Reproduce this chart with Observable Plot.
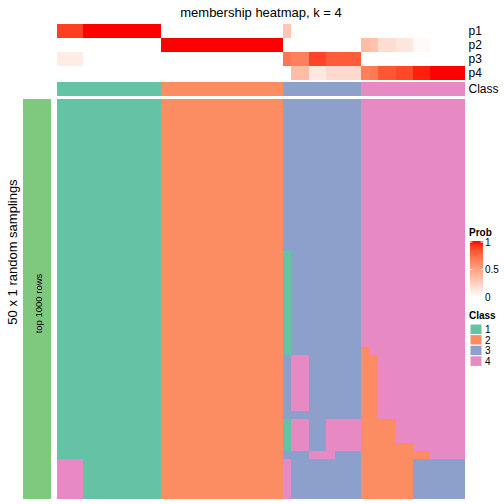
<!DOCTYPE html>
<html>
<head>
<meta charset="utf-8">
<script src="https://cdn.jsdelivr.net/npm/d3@7"></script>
<script src="https://cdn.jsdelivr.net/npm/@observablehq/plot@0.6"></script>
<style>
  html, body { margin: 0; padding: 0; background: #fff; }
  #wrap { position: relative; width: 504px; height: 504px; overflow: hidden; font-family: "Liberation Sans", Arial, sans-serif; }
  #wrap > svg, #wrap > figure { position: absolute; margin: 0; }
</style>
</head>
<body>
<div id="wrap"></div>
<script>
// ---------------- data ----------------
const title = "membership heatmap, k = 4";
const rowTitle = "50 x 1 random samplings";
const subsetLabel = "top 1000 rows";
const probRows = ["p1", "p2", "p3", "p4"];
const classLevels = [1, 2, 3, 4];
const classColors = ["#66C2A5", "#FC8D62", "#8DA0CB", "#E78AC3"];
const subsetColor = "#7FC97F";

// membership probabilities for the 47 samples (columns)
const p1 = [0.9,0.9,0.9, 1,1,1,1,1,1,1,1,1, 0,0,0,0,0,0,0,0,0,0,0,0,0,0, 0.3,0,0,0,0,0,0,0,0, 0,0,0,0,0,0,0,0,0,0,0,0];
const p2 = [0,0,0, 0,0,0,0,0,0,0,0,0, 1,1,1,1,1,1,1,1,1,1,1,1,1,1, 0,0,0,0,0,0,0,0,0, 0.35,0.32,0.18,0.18,0.13,0.13,0.03,0.03,0,0,0,0];
const p3 = [0.1,0.1,0.1, 0,0,0,0,0,0,0,0,0, 0,0,0,0,0,0,0,0,0,0,0,0,0,0, 0.7,0.65,0.65,0.88,0.88,0.8,0.8,0.8,0.8, 0,0,0,0,0,0,0,0,0,0,0,0];
const p4 = [0,0,0, 0,0,0,0,0,0,0,0,0, 0,0,0,0,0,0,0,0,0,0,0,0,0,0, 0,0.35,0.35,0.12,0.12,0.2,0.2,0.2,0.2, 0.65,0.68,0.82,0.82,0.87,0.87,0.97,0.97,1,1,1,1];
const sampleClass = [1,1,1, 1,1,1,1,1,1,1,1,1, 2,2,2,2,2,2,2,2,2,2,2,2,2,2, 3,3,3,3,3,3,3,3,3, 4,4,4,4,4,4,4,4,4,4,4,4];

// class of each sample in each of the 50 samplings; one 50-char string per column pattern
const samplingPatterns = [
  "1111111111" + "1111111111" + "1111111111" + "1111111111" + "1111144444",
  "1111111111" + "1111111111" + "1111111111" + "1111111111" + "1111111111",
  "2222222222" + "2222222222" + "2222222222" + "2222222222" + "2222222222",
  "3333333333" + "3333333331" + "1111111111" + "1133333333" + "1111344444",
  "3333333333" + "3333333333" + "3333333333" + "3344444443" + "4444333333",
  "3333333333" + "3333333333" + "3333333333" + "3333333333" + "3333433333",
  "3333333333" + "3333333333" + "3333333333" + "3333333333" + "4444433333",
  "3333333333" + "3333333333" + "3333333333" + "3333333333" + "4444333333",
  "4444444444" + "4444444444" + "4444444444" + "4222222222" + "2222222222",
  "4444444444" + "4444444444" + "4444444444" + "4422222222" + "2222222222",
  "4444444444" + "4444444444" + "4444444444" + "4444444444" + "2222222222",
  "4444444444" + "4444444444" + "4444444444" + "4444444444" + "4442222222",
  "4444444444" + "4444444444" + "4444444444" + "4444444444" + "4444233333",
  "4444444444" + "4444444444" + "4444444444" + "4444444444" + "4444433333"
];
const patternColumns = [3, 9, 14, 1, 2, 2, 1, 3, 1, 1, 2, 2, 2, 4];
const probTicks = [0, 0.5, 1];

// ---------------- tables ----------------
const cols = sampleClass.map((_, i) => i);
const probSeries = [p1, p2, p3, p4];
const memberData = [];
probRows.forEach((p, r) => probSeries[r].forEach((v, c) => memberData.push({col: c, p, v})));
const classData = sampleClass.map((k, c) => ({col: c, row: "Class", k}));
const colPattern = [];
patternColumns.forEach((n, pi) => { for (let j = 0; j < n; j++) colPattern.push(samplingPatterns[pi]); });
const rows = d3.range(50);
const bodyData = [];
colPattern.forEach((s, c) => rows.forEach(r => bodyData.push({col: c, row: r, k: +s[r]})));

const FONT = "'Liberation Sans', Arial, sans-serif";
const wrap = document.getElementById("wrap");
const probColor = {type: "linear", domain: [0, 1], range: ["white", "red"], interpolate: "lab"};
const classColor = {type: "ordinal", domain: classLevels, range: classColors};
const baseStyle = {background: "transparent", fontFamily: FONT, fontSize: "12px", color: "black"};

function place(el, top, left) {
  el.style.top = top + "px"; el.style.left = left + "px";
  el.setAttribute("shape-rendering", "crispEdges");
  wrap.appendChild(el);
}

// membership rows p1..p4
const plotA = Plot.plot({
  width: 504, height: 81, marginTop: 24, marginBottom: 1, marginLeft: 57, marginRight: 39,
  style: baseStyle,
  x: {type: "band", domain: cols, padding: 0, axis: null},
  y: {type: "band", domain: probRows, padding: 0, axis: "right", tickSize: 0, tickPadding: 3, label: null},
  color: probColor,
  marks: [Plot.cell(memberData, {x: "col", y: "p", fill: "v", inset: 0})]
});
place(plotA, 0, 0);

// class annotation row
const plotB = Plot.plot({
  width: 504, height: 14, marginTop: 0, marginBottom: 0, marginLeft: 57, marginRight: 39,
  style: baseStyle,
  x: {type: "band", domain: cols, padding: 0, axis: null},
  y: {type: "band", domain: ["Class"], padding: 0, axis: "right", tickSize: 0, tickPadding: 3, label: null},
  color: classColor,
  marks: [Plot.cell(classData, {x: "col", y: "row", fill: "k", inset: 0})]
});
place(plotB, 82, 0);

// body: 50 samplings
const plotC = Plot.plot({
  width: 504, height: 400, marginTop: 0, marginBottom: 0, marginLeft: 57, marginRight: 39,
  style: baseStyle,
  x: {type: "band", domain: cols, padding: 0, axis: null},
  y: {type: "band", domain: rows, padding: 0, axis: null},
  color: classColor,
  marks: [Plot.cell(bodyData, {x: "col", y: "row", fill: "k", inset: 0})]
});
place(plotC, 99, 0);

// left subset bar
const plotD = Plot.plot({
  width: 57, height: 400, marginTop: 0, marginBottom: 0, marginLeft: 23, marginRight: 6,
  style: {...baseStyle, fontSize: "9px"},
  x: {type: "band", domain: [subsetLabel], padding: 0, axis: null},
  y: {axis: null},
  marks: [
    Plot.cell([subsetLabel], {x: d => d, fill: subsetColor, inset: 0}),
    Plot.text([subsetLabel], {x: d => d, frameAnchor: "middle", rotate: -90, text: d => d, fill: "black", fontSize: 9.5, dx: 1, dy: 4})
  ]
});
place(plotD, 99, 0);

// overlay: titles and legends
const svg = d3.create("svg").attr("width", 504).attr("height", 504)
  .style("font-family", FONT).style("top", "0px").style("left", "0px");
svg.append("text").attr("x", 261).attr("y", 16.5).attr("text-anchor", "middle")
  .attr("font-size", 13).text(title);
svg.append("text").attr("transform", "translate(12,252) rotate(-90)").attr("text-anchor", "middle")
  .attr("dominant-baseline", "central").attr("font-size", 13).text(rowTitle);

// Prob legend
const lg = svg.append("g");
lg.append("text").attr("x", 469).attr("y", 236).attr("font-size", 10).attr("font-weight", "bold").text("Prob");
const ly = d3.scaleLinear().domain([0, 1]).range([297, 242]);
const cscale = d3.scaleLinear().domain([0, 1]).range(["white", "red"]).interpolate(d3.interpolateLab);
const grad = svg.append("defs").append("linearGradient").attr("id", "pg")
  .attr("x1", 0).attr("y1", 1).attr("x2", 0).attr("y2", 0);
d3.range(0, 1.0001, 0.1).forEach(t => grad.append("stop").attr("offset", t).attr("stop-color", cscale(t)));
lg.append("rect").attr("x", 470).attr("y", ly(1) - 1).attr("width", 13).attr("height", ly(0) - ly(1) + 1).attr("fill", "url(#pg)");
probTicks.forEach(v => {
  lg.append("line").attr("x1", 470).attr("x2", 472.5).attr("y1", ly(v)).attr("y2", ly(v)).attr("stroke", "white").attr("stroke-width", 1);
  lg.append("line").attr("x1", 480.5).attr("x2", 483).attr("y1", ly(v)).attr("y2", ly(v)).attr("stroke", "white").attr("stroke-width", 1);
  lg.append("text").attr("x", 485).attr("y", ly(v)).attr("dominant-baseline", "central").attr("font-size", 10).text(v);
});

// Class legend
lg.append("text").attr("x", 469).attr("y", 319).attr("font-size", 10).attr("font-weight", "bold").text("Class");
classLevels.forEach((k, i) => {
  const y0 = 324 + i * 10.6;
  lg.append("rect").attr("x", 470).attr("y", y0).attr("width", 12).attr("height", 10.6)
    .attr("fill", classColors[i]).attr("stroke", "white").attr("stroke-width", 1);
  lg.append("text").attr("x", 485).attr("y", y0 + 5.6).attr("dominant-baseline", "central").attr("font-size", 10).text(k);
});
wrap.appendChild(svg.node());
</script>
</body>
</html>
